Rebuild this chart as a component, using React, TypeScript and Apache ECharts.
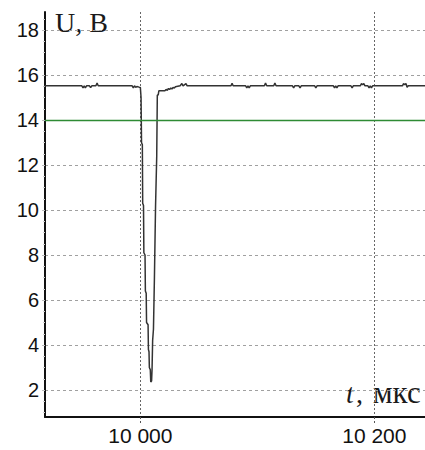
import React, { useEffect, useRef } from "react";
import * as echarts from "echarts";

const timeUs: number[] = [
  9918, 9950, 9951, 9952, 9953, 9954, 9956.5, 9957.5, 9958.5, 9962, 9963, 9964,
  9993, 9994, 9995, 9996, 9997, 9999,
  10000.0, 10000.6, 10001.0, 10001.7, 10002.0, 10002.7, 10003.0, 10004.0, 10004.3,
  10005.0, 10005.3, 10006.6, 10006.9, 10007.4, 10007.7, 10008.5, 10008.9, 10009.6,
  10010.0, 10010.5, 10011.2, 10012.0, 10013.0, 10014.0, 10014.5, 10015.3, 10015.8,
  10021, 10022, 10023, 10024, 10025, 10026, 10027, 10028, 10029, 10030, 10034,
  10035.5, 10036.5, 10039, 10040, 10077.5, 10078.4, 10079.3, 10090, 10091, 10092,
  10093, 10094, 10106, 10107, 10108, 10114, 10115, 10116, 10130, 10131, 10132,
  10135.5, 10136.5, 10137.5, 10149, 10150, 10151, 10165, 10166, 10167, 10168, 10169,
  10180, 10181, 10182, 10188, 10189, 10190, 10191, 10192, 10194.5, 10195.5, 10196.5,
  10197.5, 10198.5, 10224, 10225, 10226, 10227, 10228, 10229, 10243.3,
];

const voltage: number[] = [
  15.52, 15.52, 15.43, 15.52, 15.43, 15.52, 15.52, 15.44, 15.52, 15.52, 15.64, 15.52,
  15.52, 15.43, 15.52, 15.45, 15.49, 15.46,
  15.45, 15.0, 13.0, 12.9, 10.3, 10.2, 8.1, 8.0, 6.4,
  6.3, 5.0, 4.9, 3.8, 3.7, 3.0, 2.9, 2.36, 2.4,
  2.9, 4.2, 4.7, 6.9, 10.2, 12.4, 15.1, 15.12, 15.3,
  15.3, 15.36, 15.32, 15.4, 15.36, 15.42, 15.38, 15.45, 15.42, 15.48, 15.52,
  15.62, 15.52, 15.62, 15.52, 15.52, 15.63, 15.52, 15.52, 15.43, 15.52,
  15.43, 15.52, 15.52, 15.64, 15.52, 15.52, 15.64, 15.52, 15.52, 15.43, 15.52,
  15.52, 15.43, 15.52, 15.52, 15.43, 15.52, 15.52, 15.43, 15.52, 15.43, 15.52,
  15.52, 15.43, 15.52, 15.52, 15.62, 15.57, 15.62, 15.52, 15.52, 15.43, 15.52,
  15.43, 15.52, 15.52, 15.62, 15.57, 15.62, 15.46, 15.52, 15.52,
];

const thresholdV = 14;
const yTicks: number[] = [2, 4, 6, 8, 10, 12, 14, 16, 18];
const yMinorTicks: number[] = [
  1, 1.5, 2.5, 3, 3.5, 4.5, 5, 5.5, 6.5, 7, 7.5, 8.5, 9, 9.5, 10.5, 11, 11.5,
  12.5, 13, 13.5, 14.5, 15, 15.5, 16.5, 17, 17.5, 18.5,
];
const xTicks: number[] = [10000, 10200];
const xLabels: string[] = ["10 000", "10 200"];
const yName = "U, B";
const xNameItalic = "t";
const xNameRest = "мкс";

export default function App() {
  const ref = useRef<HTMLDivElement>(null);
  useEffect(() => {
    if (!ref.current) return;
    const chart = echarts.init(ref.current, null, { renderer: "svg" });
    const data = timeUs.map((t, i) => [t, voltage[i]]);
    chart.setOption({
      animation: false,
      backgroundColor: "#ffffff",
      grid: { left: 45, right: 0, top: 12, bottom: 33, containLabel: false },
      xAxis: {
        type: "value",
        min: 9918.5,
        max: 10243.3,
        axisLine: { show: true, onZero: false, lineStyle: { color: "#111", width: 2 } },
        axisTick: {
          show: true,
          customValues: xTicks,
          length: 6,
          lineStyle: { color: "#555", type: [2, 2], width: 1 },
        },
        axisLabel: {
          customValues: xTicks,
          formatter: (v: number) => xLabels[xTicks.indexOf(v)] ?? "",
          fontFamily: "Liberation Sans",
          fontSize: 21,
          color: "#111",
          margin: 8,
        },
        splitLine: { show: true, lineStyle: { color: "#666", type: [2, 2], width: 1 } },
      },
      yAxis: [
        {
          type: "value",
          min: 0.8,
          max: 18.8,
          axisLine: { show: true, lineStyle: { color: "#111", width: 2 } },
          axisTick: {
            show: true,
            customValues: yTicks,
            length: 3,
            lineStyle: { color: "#bbb" },
          },
          axisLabel: {
            customValues: yTicks,
            fontFamily: "Liberation Sans",
            fontSize: 20,
            color: "#111",
            margin: 6,
          },
          splitLine: { show: true, lineStyle: { color: "#a0a0a0", type: [3, 3], width: 1 } },
        },
        {
          type: "value",
          min: 0.8,
          max: 18.8,
          position: "left",
          axisLine: { show: false },
          axisTick: {
            show: true,
            customValues: yMinorTicks,
            length: 2,
            lineStyle: { color: "#ccc" },
          },
          axisLabel: { show: false },
          splitLine: { show: false },
        },
      ],
      graphic: [
        {
          type: "text",
          left: 55,
          top: 8,
          style: { text: yName, font: "28px 'Liberation Serif'", fill: "#1a1a1a" },
        },
        {
          type: "text",
          left: 346,
          top: 379,
          style: { text: xNameItalic, font: "italic 28px 'Liberation Serif'", fill: "#1a1a1a" },
        },
        {
          type: "text",
          left: 356,
          top: 379,
          style: { text: ",", font: "28px 'Liberation Serif'", fill: "#1a1a1a" },
        },
        {
          type: "text",
          left: 373,
          top: 377,
          style: { text: xNameRest, font: "31px 'Liberation Serif'", fill: "#1a1a1a" },
        },
      ],
      series: [
        {
          type: "line",
          data,
          yAxisIndex: 0,
          showSymbol: false,
          symbol: "none",
          lineStyle: { color: "#333", width: 1.5 },
          markLine: {
            silent: true,
            symbol: "none",
            label: { show: false },
            lineStyle: { color: "#2e8b34", width: 1.3, type: "solid" },
            data: [{ yAxis: thresholdV }],
          },
        },
      ],
    });
    return () => chart.dispose();
  }, []);
  return <div ref={ref} style={{ width: 425, height: 450, position: "absolute", left: 0, top: 0 }} />;
}
